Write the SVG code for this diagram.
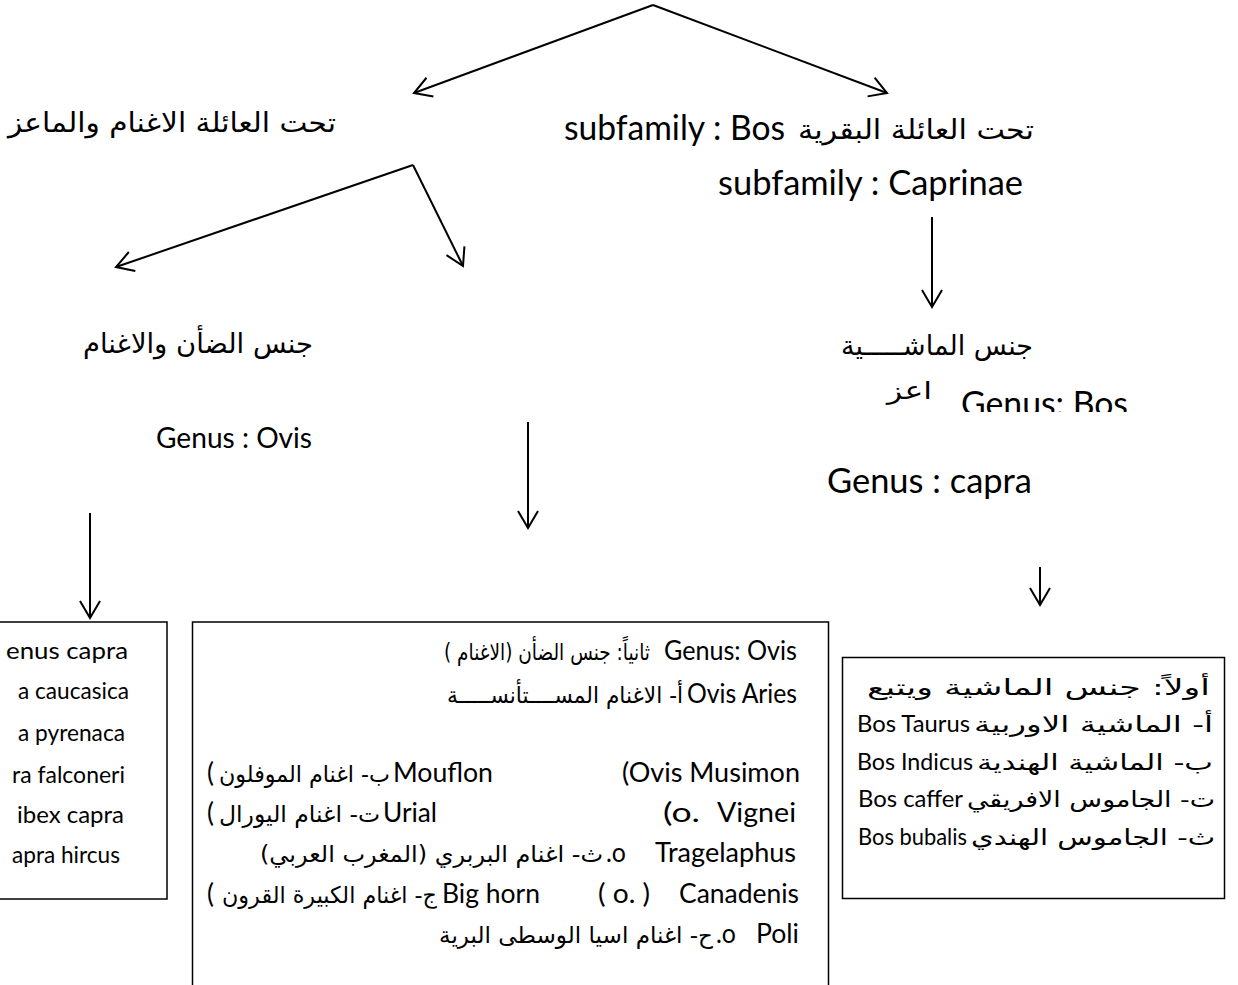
<svg xmlns="http://www.w3.org/2000/svg" width="1238" height="985" viewBox="0 0 1238 985">
<style>
.lat{font-family:Lato,"Open Sans",sans-serif;fill:#000}
.ar{font-family:"DejaVu Sans","Noto Sans",sans-serif;fill:#000;direction:rtl;text-anchor:start}
.h{font-size:34px}
.ha{font-size:27px}
.m{font-size:26px}
.ma{font-size:23px}
.r{font-size:23.5px}
.ra{font-size:22px}
.box{fill:none;stroke:#000;stroke-width:1.5}
.con{fill:none;stroke:#000;stroke-width:2;marker-end:url(#ah)}
</style>
<defs>
<marker id="ah" markerUnits="userSpaceOnUse" markerWidth="24" markerHeight="24" refX="20" refY="12" orient="auto" viewBox="0 0 24 24" overflow="visible">
<path d="M3,2 L20,12 L3,22" fill="none" stroke="#000" stroke-width="2"/>
</marker>
<clipPath id="clipBos"><rect x="900" y="380" width="260" height="32"/></clipPath>
</defs>
<rect width="1238" height="985" fill="#fff"/>

<g id="connectors">
<line class="con" x1="653" y1="5" x2="414" y2="93"/>
<line class="con" x1="653" y1="5" x2="887" y2="93"/>
<line class="con" x1="413" y1="165" x2="116" y2="267"/>
<line class="con" x1="413" y1="165" x2="463" y2="266"/>
<line class="con" x1="932" y1="217" x2="932" y2="307"/>
<line class="con" x1="90" y1="513" x2="90" y2="618"/>
<line class="con" x1="528" y1="422" x2="528" y2="528"/>
<line class="con" x1="1040" y1="567" x2="1040" y2="605"/>
</g>

<g id="subfamily-caprinae-ar">
<text class="ar ha" x="336" y="132" textLength="328" lengthAdjust="spacingAndGlyphs">تحت العائلة الاغنام والماعز</text>
</g>

<g id="subfamily-bos">
<text class="lat h" x="564" y="140" textLength="221" lengthAdjust="spacingAndGlyphs">subfamily : Bos</text>
<text class="ar ha" x="1034" y="139" textLength="236" lengthAdjust="spacingAndGlyphs">تحت العائلة البقرية</text>
<text class="lat h" x="718" y="195" textLength="305" lengthAdjust="spacingAndGlyphs">subfamily : Caprinae</text>
</g>

<g id="genus-ovis">
<text class="ar ha" x="313" y="353" textLength="230" lengthAdjust="spacingAndGlyphs">جنس الضأن والاغنام</text>
<text class="lat" font-size="28.5" x="156" y="448" textLength="156" lengthAdjust="spacingAndGlyphs">Genus : Ovis</text>
</g>

<g id="genus-bos-capra">
<text class="ar ha" x="1033" y="355" textLength="192" lengthAdjust="spacingAndGlyphs">جنس الماشـــــية</text>
<text class="ar" font-size="24" x="932" y="399" textLength="45" lengthAdjust="spacingAndGlyphs">اعز</text>
<g clip-path="url(#clipBos)">
<text class="lat h" x="961" y="416" textLength="167" lengthAdjust="spacingAndGlyphs">Genus: Bos</text>
</g>
<text class="lat h" x="827" y="493" textLength="205" lengthAdjust="spacingAndGlyphs">Genus : capra</text>
</g>

<g id="box-capra">
<rect class="box" x="-5" y="622" width="172" height="277"/>
<text class="lat" font-size="22.5" x="6" y="659" textLength="122" lengthAdjust="spacingAndGlyphs">enus capra</text>
<text class="lat" font-size="22.5" x="18" y="699" textLength="111" lengthAdjust="spacingAndGlyphs">a caucasica</text>
<text class="lat" font-size="22.5" x="18" y="741" textLength="107" lengthAdjust="spacingAndGlyphs">a pyrenaca</text>
<text class="lat" font-size="22.5" x="12" y="783" textLength="113" lengthAdjust="spacingAndGlyphs">ra falconeri</text>
<text class="lat" font-size="22.5" x="17" y="823" textLength="107" lengthAdjust="spacingAndGlyphs">ibex capra</text>
<text class="lat" font-size="22.5" x="12" y="863" textLength="108" lengthAdjust="spacingAndGlyphs">apra hircus</text>
</g>

<g id="box-ovis">
<rect class="box" x="192.5" y="622" width="636" height="400"/>
<text class="ar ma" x="650" y="660" textLength="206" lengthAdjust="spacingAndGlyphs">ثانياً:  جنس الضأن (الاغنام )</text>
<text class="lat m" x="664" y="660" textLength="133" lengthAdjust="spacingAndGlyphs">Genus: Ovis</text>
<text class="ar ma" x="683" y="703" textLength="236" lengthAdjust="spacingAndGlyphs">أ- الاغنام المســــتأنســـــة</text>
<text class="lat m" x="687" y="703" textLength="110" lengthAdjust="spacingAndGlyphs">Ovis  Aries</text>

<text class="lat m" x="207" y="782">(</text>
<text class="ar ma" x="390" y="782" textLength="171" lengthAdjust="spacingAndGlyphs">ب- اغنام الموفلون</text>
<text class="lat m" x="393" y="782" textLength="100" lengthAdjust="spacingAndGlyphs">Mouflon</text>
<text class="lat m" x="622" y="782" textLength="178" lengthAdjust="spacingAndGlyphs">(Ovis Musimon</text>

<text class="lat m" x="207" y="822">(</text>
<text class="ar ma" x="380" y="822" textLength="161" lengthAdjust="spacingAndGlyphs">ت- اغنام اليورال</text>
<text class="lat m" x="383" y="822" textLength="54" lengthAdjust="spacingAndGlyphs">Urial</text>
<text class="lat m" x="663" y="822" textLength="37" lengthAdjust="spacingAndGlyphs">(o.</text>
<text class="lat m" x="717" y="822" textLength="79" lengthAdjust="spacingAndGlyphs">Vignei</text>

<text class="ar ma" x="603" y="862" textLength="343" lengthAdjust="spacingAndGlyphs">ث- اغنام البربري (المغرب العربي)</text>
<text class="lat m" x="606" y="862" textLength="20" lengthAdjust="spacingAndGlyphs">.o</text>
<text class="lat m" x="655" y="862" textLength="141" lengthAdjust="spacingAndGlyphs">Tragelaphus</text>

<text class="lat m" x="207" y="903">(</text>
<text class="ar ma" x="437" y="903" textLength="215" lengthAdjust="spacingAndGlyphs">ج- اغنام الكبيرة القرون</text>
<text class="lat m" x="442" y="903" textLength="98" lengthAdjust="spacingAndGlyphs">Big horn</text>
<text class="lat m" x="598" y="903" textLength="52" lengthAdjust="spacingAndGlyphs">( o. )</text>
<text class="lat m" x="679" y="903" textLength="120" lengthAdjust="spacingAndGlyphs">Canadenis</text>

<text class="ar ma" x="713" y="943" textLength="274" lengthAdjust="spacingAndGlyphs">ح- اغنام اسيا الوسطى البرية</text>
<text class="lat m" x="716" y="943" textLength="20" lengthAdjust="spacingAndGlyphs">.o</text>
<text class="lat m" x="756" y="943" textLength="43" lengthAdjust="spacingAndGlyphs">Poli</text>
</g>

<g id="box-bos">
<rect class="box" x="842.5" y="657.5" width="382" height="241"/>
<text class="ar ra" x="1210" y="695" textLength="343" lengthAdjust="spacingAndGlyphs">أولاً:   جنس الماشية ويتبع</text>
<text class="lat r" x="857" y="732" textLength="113" lengthAdjust="spacingAndGlyphs">Bos Taurus</text>
<text class="ar ra" x="1213" y="732" textLength="239" lengthAdjust="spacingAndGlyphs">أ- الماشية الاوربية</text>
<text class="lat r" x="857" y="770" textLength="116" lengthAdjust="spacingAndGlyphs">Bos Indicus</text>
<text class="ar ra" x="1213" y="770" textLength="236" lengthAdjust="spacingAndGlyphs">ب- الماشية الهندية</text>
<text class="lat r" x="858" y="807" textLength="105" lengthAdjust="spacingAndGlyphs">Bos caffer</text>
<text class="ar ra" x="1215" y="807" textLength="248" lengthAdjust="spacingAndGlyphs">ت- الجاموس الافريقي</text>
<text class="lat r" x="858" y="845" textLength="109" lengthAdjust="spacingAndGlyphs">Bos bubalis</text>
<text class="ar ra" x="1215" y="845" textLength="244" lengthAdjust="spacingAndGlyphs">ث- الجاموس الهندي</text>
</g>
</svg>
